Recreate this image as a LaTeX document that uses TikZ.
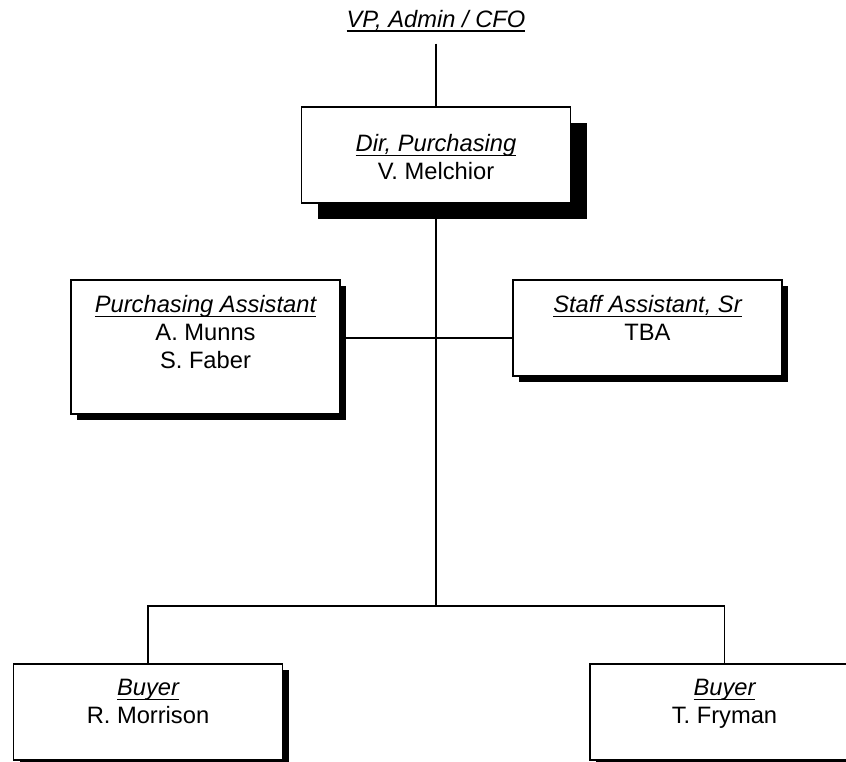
\documentclass[tikz,border=0pt]{standalone}
\usepackage{fontspec}
\setmainfont{Liberation Sans}
\usetikzlibrary{positioning,shadows}
\newsavebox{\ttlbox}
\newcommand{\ttl}[1]{\sbox\ttlbox{\itshape #1}\rlap{\rule[-4.5pt]{\wd\ttlbox}{1.5pt}}\usebox\ttlbox}
\tikzset{box/.style={draw, line width=1.4pt, fill=white, minimum width=269pt, minimum height=96pt, inner sep=0pt}}
\tikzset{shd/.style={drop shadow={shadow xshift=6pt, shadow yshift=-6pt, fill=black, opacity=1}}}
\tikzset{bigshd/.style={drop shadow={shadow xshift=16pt, shadow yshift=-16pt, fill=black, opacity=1}}}
\tikzset{role/.style={font=\fontsize{23.7pt}{28pt}\selectfont, align=center, inner sep=0pt}}
\tikzset{link/.style={line width=1.4pt}}

\begin{document}
\begin{tikzpicture}[x=1pt,y=-1pt]
    \clip (0,0) rectangle (846,761);
    \coordinate (asst) at (436,338);
    \coordinate (split) at (436,606);
    \node[role, inner ysep=12pt, anchor=base] (vp) at (436,27) {\ttl{VP, Admin / CFO}};
    \node[box, bigshd] (dir) at (436,155) {};
    \node[box, shd, minimum height=134pt] (purch) at (205.5,347) {};
    \node[box, shd] (staff) at (647.5,328) {};
    \node[box, shd] (buyl) at (148,712) {};
    \node[box, shd] (buyr) at (724.5,712) {};
    \node[role, below=28pt of dir.north] (dirtxt) {\ttl{Dir, Purchasing}\\V. Melchior};
    \node[role, below=16pt of purch.north] (purchtxt) {\ttl{Purchasing Assistant}\\A. Munns\\S. Faber};
    \node[role, below=16pt of staff.north] (stafftxt) {\ttl{Staff Assistant, Sr}\\TBA};
    \node[role, below=16pt of buyl.north] (buyltxt) {\ttl{Buyer}\\R. Morrison};
    \node[role, below=16pt of buyr.north] (buyrtxt) {\ttl{Buyer}\\T. Fryman};
    \draw[link] (vp) -- (dir);
    \draw[link] (dir) -- (split);
    \draw[link] (asst -| purch.east) -- (asst -| staff.west);
    \draw[link] (buyl) |- (split) -| (buyr);
\end{tikzpicture}
\end{document}
